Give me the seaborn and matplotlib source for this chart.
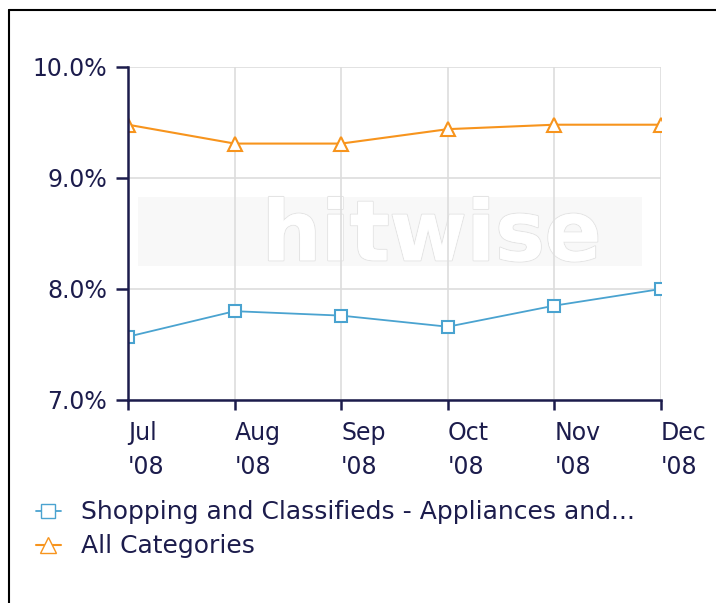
import pandas as pd
import numpy as np
import matplotlib
matplotlib.use('Agg')
import matplotlib.pyplot as plt
from matplotlib.lines import Line2D
from matplotlib.patches import Rectangle
import matplotlib.patheffects as pe
import seaborn as sns

# Data
months = ["Jul\n'08", "Aug\n'08", "Sep\n'08", "Oct\n'08", "Nov\n'08", "Dec\n'08"]
shopping = [7.57, 7.80, 7.76, 7.66, 7.85, 8.00]
all_categories = [9.48, 9.31, 9.31, 9.44, 9.48, 9.48]
series_names = ["Shopping and Classifieds - Appliances and...", "All Categories"]
yticks = [7, 8, 9, 10]

blue = '#4aa3d0'
orange = '#f7941d'
navy = '#1c1c4c'

sns.set_theme(style='white')
plt.rcParams['font.family'] = ['DejaVu Sans']

df = pd.DataFrame({'x': range(len(months)), 'shopping': shopping, 'all': all_categories})

fig = plt.figure(figsize=(7.16, 6.03), dpi=100)
ax = fig.add_axes([0.1788, 0.3367, 0.9232 - 0.1788, 0.8889 - 0.3367])

sns.lineplot(data=df, x='x', y='shopping', ax=ax, color=blue, lw=1.3, marker='s',
             markersize=8, markerfacecolor='white', markeredgecolor=blue, markeredgewidth=1.5)
sns.lineplot(data=df, x='x', y='all', ax=ax, color=orange, lw=1.5, marker='^',
             markersize=10, markerfacecolor='white', markeredgecolor=orange, markeredgewidth=1.5)

ax.set_xlim(0, len(months) - 1)
ax.set_ylim(7, 10)
ax.set_xticks(range(len(months)))
ax.set_xticklabels(months, ha='left', linespacing=1.55)
ax.set_yticks(yticks)
ax.set_yticklabels([f'{v:.1f}%' for v in yticks])
ax.set_xlabel('')
ax.set_ylabel('')

ax.grid(True, color='#dddddd', lw=1.2)
ax.set_axisbelow(True)
for s in ['top', 'right']:
    ax.spines[s].set_visible(False)
for s in ['left', 'bottom']:
    ax.spines[s].set_color(navy)
    ax.spines[s].set_linewidth(1.8)
ax.tick_params(axis='both', direction='out', width=1.8, color=navy,
               labelcolor=navy, labelsize=17, left=True, bottom=True)
ax.tick_params(axis='y', length=9, pad=6)
ax.tick_params(axis='x', length=7, pad=8)

# faint hitwise watermark, under the grid
wm_box = Rectangle((138 / 716, 1 - 266 / 603), (642 - 138) / 716, (266 - 197) / 603,
                   transform=fig.transFigure, facecolor='#f8f8f8', edgecolor='none',
                   zorder=0.1, clip_on=False)
ax.add_patch(wm_box)
ax.text(0.57, 0.49, 'hitwise', transform=ax.transAxes, fontsize=60, fontweight='bold',
        color='white', ha='center', va='center', zorder=0.3,
        path_effects=[pe.withStroke(linewidth=1.5, foreground='#e4e4e4'), pe.Normal()])

# legend below
handles = [Line2D([], [], color=blue, marker='s', markersize=10, markerfacecolor='white',
                  markeredgecolor=blue, lw=1.3),
           Line2D([], [], color=orange, marker='^', markersize=12, markerfacecolor='white',
                  markeredgecolor=orange, lw=1.5)]
leg = fig.legend(handles, series_names, loc='upper left', bbox_to_anchor=(0.05, 0.17),
                 frameon=False, fontsize=18, handlelength=1.0, handletextpad=0.8,
                 labelspacing=0.4, borderaxespad=0, borderpad=0)
for t in leg.get_texts():
    t.set_color(navy)

# frame lines on left and top
fig.add_artist(Line2D([0.0125, 0.0125], [0, 0.984], color='black', lw=1.5, transform=fig.transFigure))
fig.add_artist(Line2D([0.0125, 1], [0.984, 0.984], color='black', lw=1.5, transform=fig.transFigure))

fig.savefig('out.png', dpi=100)
